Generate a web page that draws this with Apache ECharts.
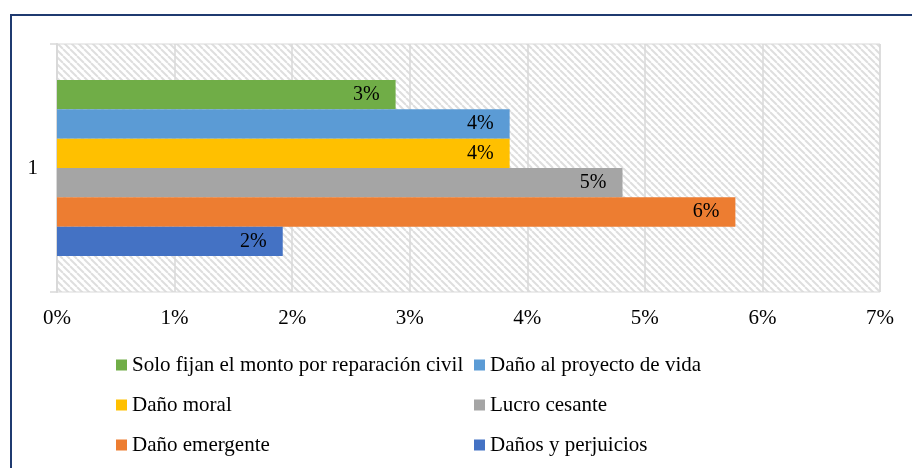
<!DOCTYPE html>
<html>
<head>
<meta charset="utf-8">
<script src="https://cdn.jsdelivr.net/npm/echarts@6/dist/echarts.min.js"></script>
<style>
  html, body { margin: 0; padding: 0; background: #fff; }
  #wrap { position: relative; width: 912px; height: 468px; overflow: hidden; }
  #chart { position: absolute; left: 0; top: 0; width: 912px; height: 468px; }
  #frame { position: absolute; left: 10px; top: 14px; width: 940px; height: 500px;
           border-top: 2px solid #1f3a70; border-left: 2px solid #1f3a70; pointer-events: none; }
</style>
</head>
<body>
<div id="wrap">
  <div id="chart"></div>
  <div id="frame"></div>
</div>
<script>
// Data
var categories = ['1'];
var seriesNames = ['Solo fijan el monto por reparación civil', 'Daño al proyecto de vida', 'Daño moral', 'Lucro cesante', 'Daño emergente', 'Daños y perjuicios'];
var soloFijan = [0.0288];
var danoProyecto = [0.0385];
var danoMoral = [0.0385];
var lucroCesante = [0.0481];
var danoEmergente = [0.0577];
var danosPerjuicios = [0.0192];
var xTicks = [0, 0.01, 0.02, 0.03, 0.04, 0.05, 0.06, 0.07];
var legendLeft = ['Solo fijan el monto por reparación civil', 'Daño moral', 'Daño emergente'];
var legendRight = ['Daño al proyecto de vida', 'Lucro cesante', 'Daños y perjuicios'];

var colors = ['#70ad47', '#5b9bd5', '#ffc000', '#a5a5a5', '#ed7d31', '#4472c4'];
var values = [soloFijan, danoProyecto, danoMoral, lucroCesante, danoEmergente, danosPerjuicios];

// hatch pattern
var tile = document.createElement('canvas');
tile.width = 7; tile.height = 7;
var ctx = tile.getContext('2d');
ctx.fillStyle = '#ffffff';
ctx.fillRect(0, 0, 7, 7);
ctx.strokeStyle = '#dedede';
ctx.lineWidth = 2;
[-7, 0, 7].forEach(function (k) {
  ctx.beginPath();
  ctx.moveTo(k, 0);
  ctx.lineTo(k + 7, 7);
  ctx.stroke();
});

var font = "'Liberation Serif', 'Times New Roman', serif";

var series = seriesNames.map(function (name, i) {
  return {
    name: name,
    type: 'bar',
    data: values[i],
    barGap: '0%',
    barCategoryGap: '29%',
    itemStyle: { color: colors[i] },
    label: {
      show: true,
      position: 'insideRight',
      distance: 16,
      color: '#000',
      fontFamily: font,
      fontSize: 20,
      formatter: function (p) { return Math.round(p.value * 100) + '%'; }
    }
  };
});

var chart = echarts.init(document.getElementById('chart'), null, { renderer: 'canvas' });
chart.setOption({
  animation: false,
  backgroundColor: '#fff',
  grid: {
    left: 57, right: 32, top: 44, bottom: 176,
    show: true,
    backgroundColor: { image: tile, repeat: 'repeat' },
    borderColor: '#d9d9d9',
    borderWidth: 1
  },
  legend: [
    {
      data: legendLeft, orient: 'vertical', left: 116, top: 353, padding: 0,
      itemWidth: 11, itemHeight: 11, itemGap: 16, icon: 'rect',
      textStyle: { fontFamily: font, fontSize: 21, color: '#000', lineHeight: 24 }
    },
    {
      data: legendRight, orient: 'vertical', left: 474, top: 353, padding: 0,
      itemWidth: 11, itemHeight: 11, itemGap: 16, icon: 'rect',
      textStyle: { fontFamily: font, fontSize: 21, color: '#000', lineHeight: 24 }
    }
  ],
  xAxis: {
    type: 'value',
    min: xTicks[0], max: xTicks[xTicks.length - 1], interval: 0.01,
    axisLine: { show: false },
    axisTick: { show: false },
    splitLine: { show: true, lineStyle: { color: '#d9d9d9', width: 1.5 } },
    axisLabel: {
      margin: 16, color: '#000', fontFamily: font, fontSize: 21,
      formatter: function (v) { return Math.round(v * 100) + '%'; }
    }
  },
  yAxis: {
    type: 'category',
    data: categories,
    inverse: false,
    axisLine: { show: true, lineStyle: { color: '#d9d9d9', width: 2 } },
    axisTick: { show: true, length: 7, lineStyle: { color: '#d9d9d9', width: 1.5 } },
    axisLabel: { margin: 19, color: '#000', fontFamily: font, fontSize: 21 }
  },
  series: series
});
</script>
</body>
</html>
